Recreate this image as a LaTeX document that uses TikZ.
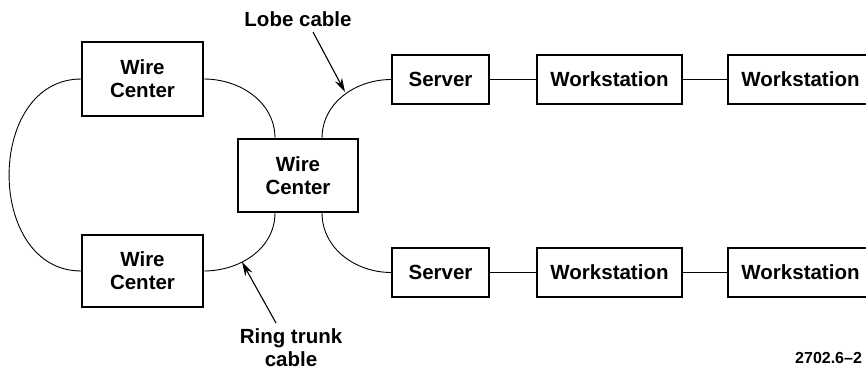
\documentclass[tikz,border=0pt]{standalone}
\usepackage{fontspec}
\setmainfont{Liberation Sans}
\usetikzlibrary{arrows.meta,positioning}
\begin{document}
\begin{tikzpicture}[x=1pt, y=-1pt, font=\fontsize{20.5}{23}\selectfont\bfseries]
\def\station{node [draw, line width=1.4pt, align=center, inner sep=0] }
\def\label{node [align=center, inner sep=0] }
\useasboundingbox (0,0) rectangle (866,372);

\draw (142.5,79) \station[minimum width=121pt, minimum height=74pt] (wc1) {Wire\\Center};
\draw (142.5,271) \station[minimum width=121pt, minimum height=72pt] (wc2) {Wire\\Center};
\draw (298,175.5) \station[minimum width=120pt, minimum height=73pt] (wc3) {Wire\\Center};

\draw (440.5,79.5) \station[minimum width=97pt, minimum height=49pt] (srv1) {Server};
\draw (609.5,79.5) \station[minimum width=145pt, minimum height=49pt] (ws11) {Workstation};
\draw (800.5,79.5) \station[minimum width=145pt, minimum height=49pt] (ws12) {Workstation};

\draw (440.5,272.5) \station[minimum width=97pt, minimum height=49pt] (srv2) {Server};
\draw (609.5,272.5) \station[minimum width=145pt, minimum height=49pt] (ws21) {Workstation};
\draw (800.5,272.5) \station[minimum width=145pt, minimum height=49pt] (ws22) {Workstation};

\draw (298,26) \label[anchor=base] (lobe) {Lobe cable};
\draw (291,348) \label (trunk) {Ring trunk\\cable};
\draw (795,363) \label[anchor=base west, font=\fontsize{16}{18}\selectfont\bfseries] (fig) {2702.6--2};

\coordinate (lobetail) at (313,32);
\coordinate (lobetip) at (345,92);
\coordinate (trunktail) at (276,323);
\coordinate (trunktip) at (242,262);

\draw[line width=0.9pt] (wc1.west) .. controls (-15,79) and (-15,271) .. (wc2.west);
\draw[line width=0.9pt] (wc1.east) to[out=0, in=90] ([xshift=-23pt]wc3.north);
\draw[line width=0.9pt] (wc2.east) to[out=0, in=-90] ([xshift=-23pt]wc3.south);
\draw[line width=0.9pt] ([xshift=24pt]wc3.north) to[out=90, in=180] (srv1.west);
\draw[line width=0.9pt] ([xshift=24pt]wc3.south) to[out=-90, in=180] (srv2.west);

\draw[line width=0.9pt] (srv1) -- (ws11);
\draw[line width=0.9pt] (ws11) -- (ws12);
\draw[line width=0.9pt] (srv2) -- (ws21);
\draw[line width=0.9pt] (ws21) -- (ws22);

\draw[line width=1.1pt, -{Stealth[length=14pt, width=8pt]}] (lobetail) -- (lobetip);
\draw[line width=1.1pt, -{Stealth[length=14pt, width=8pt]}] (trunktail) -- (trunktip);
\end{tikzpicture}
\end{document}
